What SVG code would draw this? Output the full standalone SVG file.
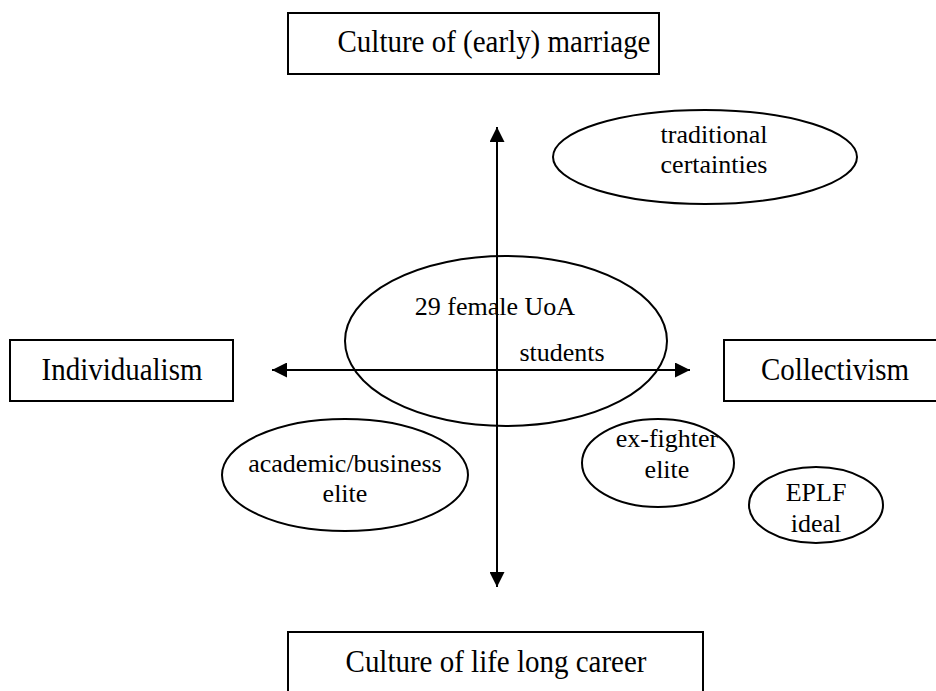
<svg xmlns="http://www.w3.org/2000/svg" width="936" height="691" viewBox="0 0 936 691">
<style>
.box{fill:#fff;stroke:#000;stroke-width:2}
.ell{fill:none;stroke:#000;stroke-width:2}
.bt{font-family:"Liberation Serif","Times New Roman",serif;font-size:29px;fill:#000;text-anchor:middle}
.et{font-family:"Liberation Serif","Times New Roman",serif;font-size:26px;fill:#000;text-anchor:middle}
.ax{stroke:#000;stroke-width:2;fill:none}
</style>
<defs>
<marker id="ah" viewBox="0 0 15 15" refX="15" refY="7.5" markerWidth="15" markerHeight="15" markerUnits="userSpaceOnUse" orient="auto-start-reverse">
<path d="M0,0 L15,7.5 L0,15 z" fill="#000"/>
</marker>
</defs>
<rect width="936" height="691" fill="#fff"/>
<g id="node-marriage">
<rect class="box" x="288" y="13" width="371" height="61"/>
<text class="bt" transform="translate(494 52) scale(1 1.12)">Culture of (early) marriage</text>
</g>
<g id="node-career">
<rect class="box" x="288" y="632" width="415" height="70"/>
<text class="bt" transform="translate(496 672) scale(1 1.12)">Culture of life long career</text>
</g>
<g id="node-individualism">
<rect class="box" x="10" y="340" width="223" height="61"/>
<text class="bt" transform="translate(122 380) scale(1 1.12)">Individualism</text>
</g>
<g id="node-collectivism">
<rect class="box" x="724" y="340" width="223" height="61"/>
<text class="bt" transform="translate(835 380) scale(1 1.12)">Collectivism</text>
</g>
<g id="node-traditional">
<ellipse class="ell" cx="705" cy="157" rx="152" ry="47"/>
<text class="et" x="714" y="143">traditional</text>
<text class="et" x="714" y="173">certainties</text>
</g>
<g id="node-students">
<ellipse class="ell" cx="506" cy="341" rx="161" ry="85"/>
<text class="et" x="495" y="315">29 female UoA</text>
<text class="et" x="562" y="361">students</text>
</g>
<g id="node-academic">
<ellipse class="ell" cx="345" cy="475" rx="123" ry="56"/>
<text class="et" x="345" y="472">academic/business</text>
<text class="et" x="345" y="502">elite</text>
</g>
<g id="node-exfighter">
<ellipse class="ell" cx="658" cy="463" rx="76" ry="44"/>
<text class="et" x="667" y="447">ex-fighter</text>
<text class="et" x="667" y="478">elite</text>
</g>
<g id="node-eplf">
<ellipse class="ell" cx="816" cy="505" rx="67" ry="38"/>
<text class="et" x="816" y="501">EPLF</text>
<text class="et" x="816" y="532">ideal</text>
</g>
<g id="connectors">
<line class="ax" x1="497" y1="127" x2="497" y2="587" marker-start="url(#ah)" marker-end="url(#ah)"/>
<line class="ax" x1="272" y1="370" x2="690" y2="370" marker-start="url(#ah)" marker-end="url(#ah)"/>
</g>
</svg>
